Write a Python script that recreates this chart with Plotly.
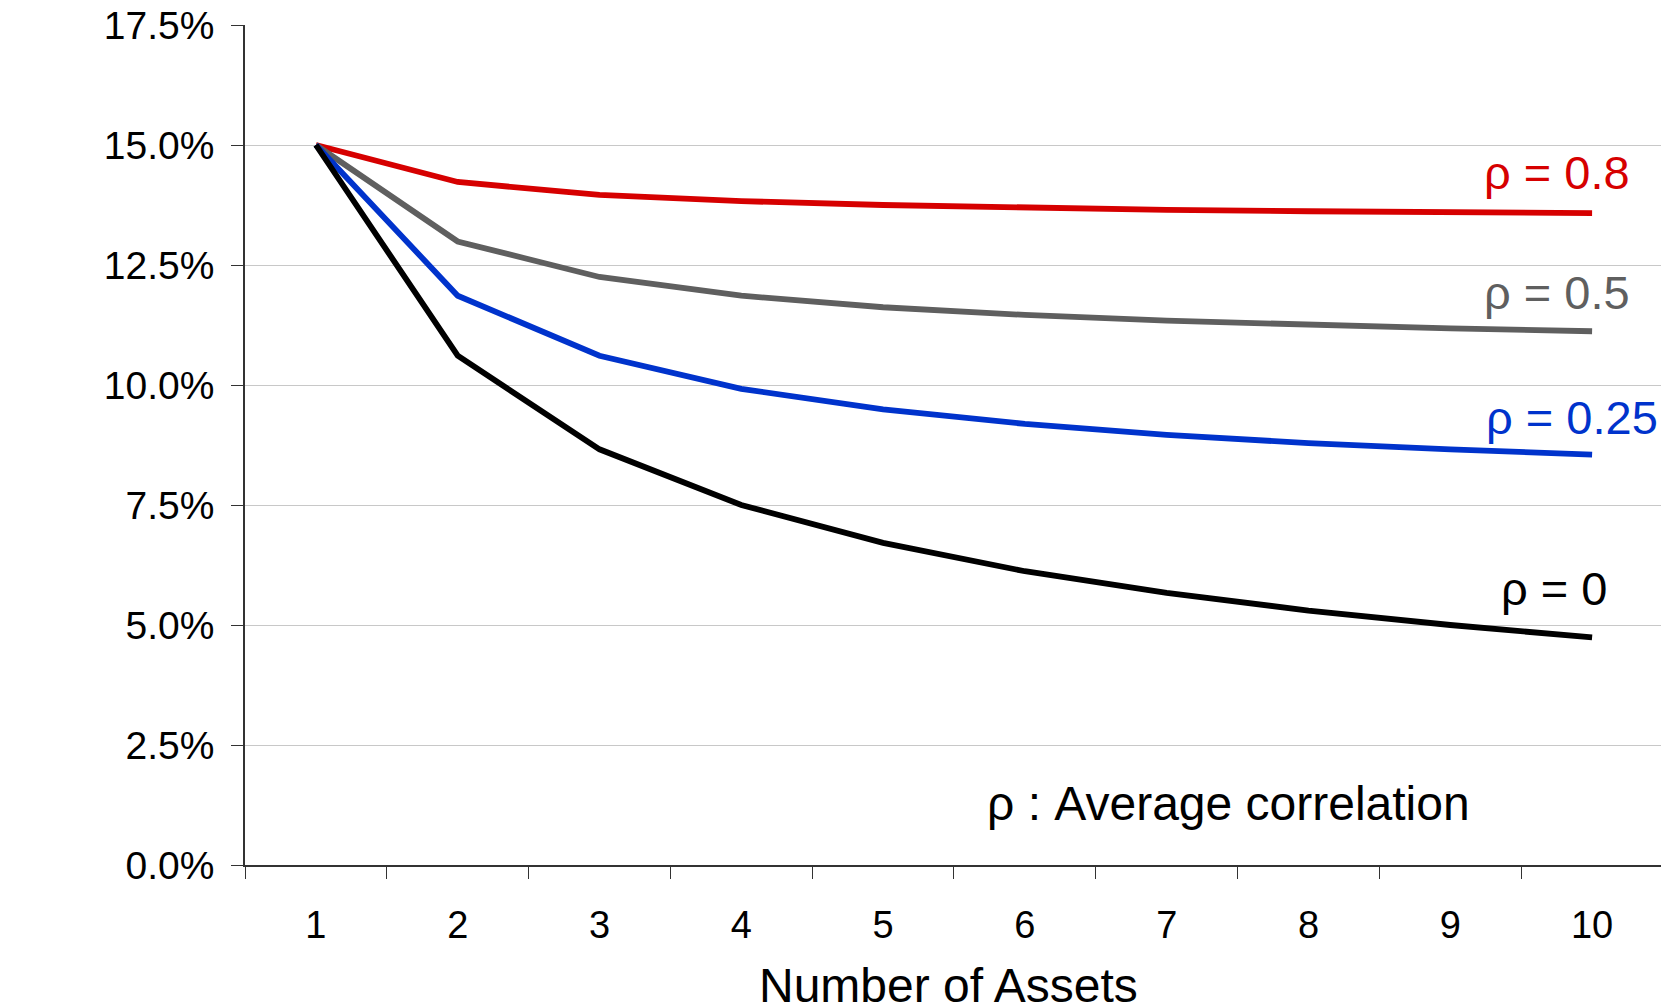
import plotly.graph_objects as go

# Portfolio standard deviation (%) by number of equally weighted assets
n_assets = ["1", "2", "3", "4", "5", "6", "7", "8", "9", "10"]
sd_rho_08 = [15.00, 14.23, 13.96, 13.83, 13.75, 13.69, 13.65, 13.62, 13.60, 13.58]
sd_rho_05 = [15.00, 12.99, 12.25, 11.86, 11.62, 11.46, 11.34, 11.25, 11.18, 11.12]
sd_rho_025 = [15.00, 11.86, 10.61, 9.92, 9.49, 9.19, 8.96, 8.79, 8.66, 8.55]
sd_rho_0 = [15.00, 10.61, 8.66, 7.50, 6.71, 6.12, 5.67, 5.30, 5.00, 4.74]

series_labels = ["ρ = 0.8", "ρ = 0.5", "ρ = 0.25", "ρ = 0"]
series_colors = ["#d60000", "#5f5f5f", "#0033cc", "#000000"]
series_values = [sd_rho_08, sd_rho_05, sd_rho_025, sd_rho_0]

FONT = "Liberation Sans, Arial, sans-serif"

fig = go.Figure()
for name, color, vals in zip(series_labels, series_colors, series_values):
    fig.add_trace(go.Scatter(
        x=n_assets, y=vals, mode="lines", name=name,
        line=dict(color=color, width=5.8),
        showlegend=False, hoverinfo="skip",
    ))

# Inline series labels near the line ends
label_pos = [(9.28, 14.42), (9.28, 11.92), (9.48, 9.33), (9.12, 5.77)]
for name, color, (lx, ly) in zip(series_labels, series_colors, label_pos):
    fig.add_annotation(
        x=lx, y=ly, xref="x", yref="y", text=name, showarrow=False,
        xanchor="right", yanchor="middle",
        font=dict(family=FONT, size=47, color=color),
    )

fig.add_annotation(
    x=4.72, y=1.29, xref="x", yref="y", text="ρ : Average correlation",
    showarrow=False, xanchor="left", yanchor="middle",
    font=dict(family=FONT, size=48, color="#000000"),
)

# Axis titles
fig.add_annotation(
    x=35, y=487, xref="paper", yref="paper", text="Standard deviation",
    showarrow=False, textangle=-90, xanchor="center", yanchor="middle",
    font=dict(family=FONT, size=48, color="#000000"),
)
fig.add_annotation(
    x=0.497, y=-0.143, xref="paper", yref="paper", text="Number of Assets",
    showarrow=False, xanchor="center", yanchor="middle",
    font=dict(family=FONT, size=48, color="#000000"),
)

fig.update_layout(
    width=1661, height=1005,
    margin=dict(l=245, r=0, t=25, b=140),
    paper_bgcolor="white", plot_bgcolor="white",
    font=dict(family=FONT, color="#000000"),
)

fig.update_xaxes(
    type="category", range=[-0.5, 9.486],
    tickson="boundaries", ticks="outside", ticklen=12, tickwidth=1.2,
    tickcolor="#333333", showline=True, linecolor="#333333", linewidth=1.5,
    showgrid=False, zeroline=False,
    tickfont=dict(family=FONT, size=38, color="#000000"),
    ticklabelstandoff=26,
)
fig.update_yaxes(
    range=[0, 17.5], tick0=0, dtick=2.5, tickformat=".1f", ticksuffix="%",
    ticks="outside", ticklen=12, tickwidth=1.2, tickcolor="#333333",
    showline=True, linecolor="#333333", linewidth=1.5,
    showgrid=True, gridcolor="#c8c8c8", gridwidth=1, zeroline=False,
    tickfont=dict(family=FONT, size=39, color="#000000"),
    ticklabelstandoff=9,
)

fig.write_html("out.html")
